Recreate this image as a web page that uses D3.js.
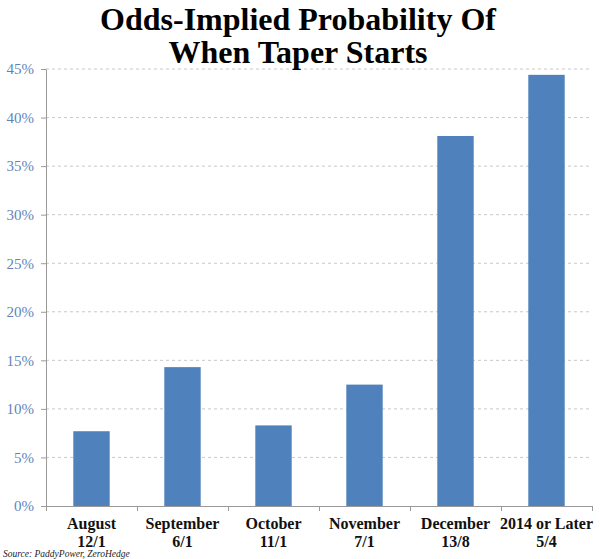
<!DOCTYPE html>
<html>
<head>
<meta charset="utf-8">
<script src="https://cdn.jsdelivr.net/npm/d3@7"></script>
<style>
  body { margin: 0; background: #fff; }
</style>
</head>
<body>
<svg id="chart" width="600" height="559"></svg>
<script>
// values (odds converted to implied probability, %)
const months = ["August", "September", "October", "November", "December", "2014 or Later"];
const odds = ["12/1", "6/1", "11/1", "7/1", "13/8", "5/4"];
const probs = [7.7, 14.3, 8.3, 12.5, 38.1, 44.4];
const yTicks = [0, 5, 10, 15, 20, 25, 30, 35, 40, 45];

const svg = d3.select("#chart");
const margin = { top: 69, right: 8, bottom: 53, left: 46 };
const width = 600 - margin.left - margin.right;
const height = 559 - margin.top - margin.bottom;

const g = svg.append("g").attr("transform", `translate(${margin.left},${margin.top})`);

const x = d3.scaleBand().domain(months).range([0, width]).paddingInner(0.6).paddingOuter(0.3);
const xEdge = d3.scaleLinear().domain([0, months.length]).range([0, width]);
const y = d3.scaleLinear().domain([0, 45]).range([height, 0]);

// gridlines
g.selectAll(".grid")
    .data(yTicks.filter(d => d > 0))
    .enter()
    .append("line")
    .attr("x1", 0)
    .attr("x2", width)
    .attr("y1", d => y(d))
    .attr("y2", d => y(d))
    .attr("stroke", "#c8c8c8")
    .attr("stroke-dasharray", "3,3")
    .attr("stroke-width", 1);

// bars
g.selectAll(".bar")
    .data(probs)
    .enter()
    .append("rect")
    .attr("x", (d, i) => x(months[i]))
    .attr("y", d => y(d))
    .attr("width", x.bandwidth())
    .attr("height", d => height - y(d))
    .attr("fill", "#4f81bd");

// y axis
const yAxis = g.append("g")
    .call(d3.axisLeft(y).tickValues(yTicks).tickFormat(d => d + "%").tickSize(5).tickSizeOuter(0));
yAxis.select(".domain").attr("stroke", "#999");
yAxis.selectAll(".tick line").attr("stroke", "#999");
yAxis.selectAll(".tick text")
    .attr("x", -12)
    .attr("fill", "#5f84bd")
    .style("font-family", "Liberation Serif, serif")
    .style("font-size", "15px");

// x axis line and boundary ticks
const xAxis = g.append("g").attr("transform", `translate(0,${height})`)
    .call(d3.axisBottom(xEdge).ticks(months.length).tickSize(5).tickFormat(""));
xAxis.select(".domain").attr("stroke", "#999");
xAxis.selectAll(".tick line").attr("stroke", "#999");

// category labels
const labels = g.selectAll(".lab")
    .data(months)
    .enter()
    .append("text")
    .attr("x", d => x(d) + x.bandwidth() / 2)
    .attr("y", height + 23)
    .attr("text-anchor", "middle")
    .style("font-family", "Liberation Serif, serif")
    .style("font-size", "16px")
    .style("font-weight", "bold")
    .attr("fill", "#111");
labels.append("tspan").text(d => d);
labels.append("tspan")
    .attr("x", d => x(d) + x.bandwidth() / 2)
    .attr("dy", 18)
    .text((d, i) => odds[i]);

// title
const title = svg.append("text")
    .attr("x", 300)
    .attr("text-anchor", "middle")
    .style("font-family", "Liberation Serif, serif")
    .style("font-weight", "bold")
    .style("font-size", "32px")
    .attr("fill", "#000");
title.append("tspan").attr("x", 298).attr("y", 30).text("Odds-Implied Probability Of");
title.append("tspan").attr("x", 298).attr("y", 63).text("When Taper Starts");

// source
svg.append("text")
    .attr("x", 3)
    .attr("y", 557)
    .style("font-family", "Liberation Serif, serif")
    .style("font-style", "italic")
    .style("font-size", "9.5px")
    .attr("fill", "#222")
    .text("Source: PaddyPower, ZeroHedge");
</script>
</body>
</html>
